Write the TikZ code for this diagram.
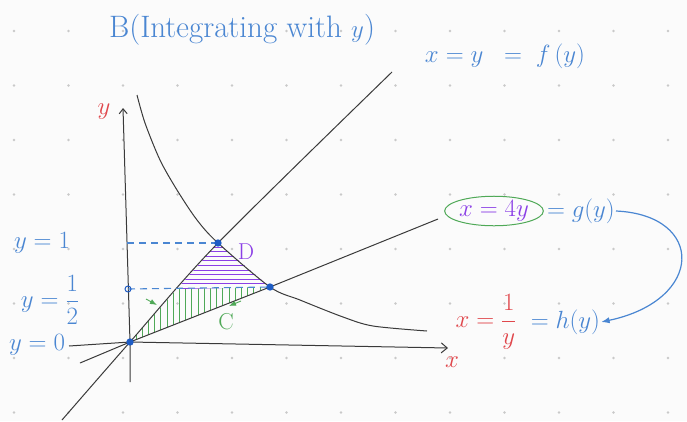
\documentclass[tikz,border=0pt]{standalone}
\usepackage{amsmath,amssymb}
\usepackage{tikz}
\usetikzlibrary{arrows.meta,positioning,calc,shapes.geometric}
\definecolor{ink}{HTML}{3A3A3A}
\definecolor{paper}{HTML}{FBFBFB}
\definecolor{gridgray}{HTML}{C9C9C9}
\definecolor{penblue}{HTML}{4A86D2}
\definecolor{dotblue}{HTML}{1E5CC4}
\definecolor{penred}{HTML}{E0474C}
\definecolor{penpurple}{HTML}{8B3FE6}
\definecolor{pengreen}{HTML}{4FA957}
\tikzset{>=Latex,curve/.style={ink,line width=1pt},hand/.style={font=\fontsize{29}{34}\selectfont,inner sep=1pt},bluetxt/.style={hand,text=penblue},redtxt/.style={hand,text=penred},small/.style={font=\fontsize{23}{27}\selectfont},dot/.style={circle,fill=dotblue,inner sep=2.6pt},dashline/.style={penblue,line width=1.1pt,dash pattern=on 7pt off 5pt}}

\begin{document}
\begin{tikzpicture}[x=1pt,y=-1pt]
\fill[paper] (0,0) rectangle (687,421);
\useasboundingbox (0,0) rectangle (687,421);
\foreach \i in {0,...,12}{\foreach \j in {0,...,7}{\fill[gridgray] ({14+54.5*\i},{31+54.5*\j}) circle (1.4);}}
\coordinate (O) at (130,342);
\coordinate (D) at (218,243);
\coordinate (E) at (270,287);
\coordinate (P) at (177,289);
\coordinate (yone) at (127,243);
\coordinate (yhalf) at (128,289);
% shaded pieces
\begin{scope}
\clip (D) -- (P) -- (E) -- cycle;
\foreach \k in {0,...,9}{\draw[penpurple,line width=1pt] (160,{247+4.6*\k}) -- (290,{247+4.6*\k});}
\end{scope}
\begin{scope}
\clip (O) -- (P) -- (E) -- cycle;
\foreach \k in {0,...,21}{\draw[pengreen,line width=.9pt] ({136+6.2*\k},280) -- ({136+6.2*\k},345);}
\end{scope}
% axes and curves
\draw[curve,-{Straight Barb[length=6pt,width=10pt]}] (69,346) -- (O) -- (448,348);
\draw[curve,-{Straight Barb[length=5pt,width=8pt]}] (130,382) -- (O) -- (123,108);
\draw[curve] plot[smooth] coordinates {(62,420) (O) (D) (392,72)};
\draw[curve] (80,363) -- (O) -- (E) -- (438,219);
\draw[curve] plot[smooth] coordinates {(137,95) (145,123) (160,160) (177,190) (197,220) (D) (E) (300,300) (343,317) (373,326) (427,331)};
\draw[dashline] (yone) -- (D);
\draw[dashline] (yhalf) -- (E);
\node[dot] (Odot) at (O) {};
\node[dot] (Ddot) at (D) {};
\node[dot] (Edot) at (E) {};
\draw[dotblue,line width=1pt] (yhalf) circle (3);
% labels
\node[bluetxt,font=\fontsize{31}{36}\selectfont] (title) at (242,30) {B(Integrating with $y$)};
\node[bluetxt,font=\fontsize{33}{38}\selectfont] (fy) at (505,56) {$x = y \;\;=\; f\,(y)$};
\node[redtxt,small] (ylab) at (104,112) {$y$};
\node[redtxt,small] (xlab) at (452,362) {$x$};
\node[bluetxt] (lone) at (42,243) {$y = 1$};
\node[bluetxt] (lhalf) at (50,300) {$y = \dfrac{1}{2}$};
\node[bluetxt] (lzero) at (37,345) {$y = 0$};
\node[hand,small,text=penpurple] (Dlab) at (246,252) {D};
\node[hand,small,text=pengreen] (Clab) at (226,322) {C};
\node[hand,text=penpurple,draw=pengreen,line width=1pt,ellipse,inner sep=0pt] (gx) at (494,211) {$x = 4y$};
\node[bluetxt,right=2pt of gx] (gy) {$=g(y)$};
\node[redtxt] (hx) at (486,322) {$x = \dfrac{1}{y}$};
\node[bluetxt,right=12pt of hx] (hy) {$=h(y)$};
\draw[penblue,line width=1.2pt,->] (gy.east) .. controls (705,215) and (705,300) .. (hy.east);
% little arrows along C
\coordinate (ca) at (146,299);
\coordinate (cb) at (157,305);
\coordinate (cc) at (241,301);
\coordinate (cd) at (229,306);
\draw[pengreen,line width=.9pt,->] (ca) -- (cb);
\draw[pengreen,line width=.9pt,->] (cc) -- (cd);
\end{tikzpicture}
\end{document}
